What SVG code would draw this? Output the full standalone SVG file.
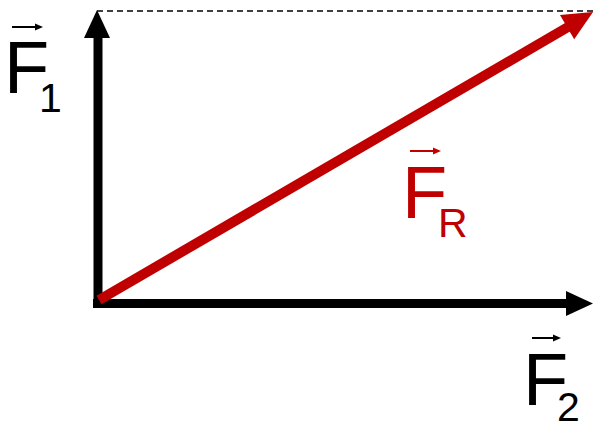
<svg xmlns="http://www.w3.org/2000/svg" width="593" height="423" viewBox="0 0 593 423">
<style>
.lbl{font-family:"Liberation Sans",Arial,sans-serif}
.big{font-size:74px}
.sub{font-size:41px}
.blk{fill:#000}
.red{fill:#C00000}
.vec{stroke-width:2;fill:none}
</style>
<rect width="593" height="423" fill="#fff"/>
<g id="connectors">
  <line x1="97" y1="11" x2="593" y2="11" stroke="#000" stroke-width="1.5" stroke-dasharray="6 4"/>
  <g id="axis-y">
    <line x1="98" y1="308" x2="98" y2="36" stroke="#000" stroke-width="9"/>
    <polygon points="97,10 84,38 110,38" fill="#000"/>
  </g>
  <g id="axis-x">
    <line x1="93" y1="303.5" x2="568" y2="303.5" stroke="#000" stroke-width="9"/>
    <polygon points="593,303.5 566,291 566,316" fill="#000"/>
  </g>
  <g id="resultant">
    <line x1="99" y1="300" x2="568" y2="27" stroke="#C00000" stroke-width="10"/>
    <polygon points="593,12 574.2,39.2 560,15" fill="#C00000"/>
  </g>
</g>
<g id="label-F1">
  <text class="lbl big blk" x="4" y="93">F</text>
  <text class="lbl sub blk" x="39" y="112">1</text>
  <path class="vec" stroke="#000" d="M12,27 H38"/>
  <polygon points="43,27 35,23.5 35,30.5" fill="#000"/>
</g>
<g id="label-FR">
  <text class="lbl big red" x="402" y="218">F</text>
  <text class="lbl sub red" x="438" y="237">R</text>
  <path class="vec" stroke="#C00000" d="M410,151 H436"/>
  <polygon points="441,151 433,147.5 433,154.5" fill="#C00000"/>
</g>
<g id="label-F2">
  <text class="lbl big blk" x="523" y="405">F</text>
  <text class="lbl sub blk" x="557" y="421">2</text>
  <path class="vec" stroke="#000" d="M532,338 H556"/>
  <polygon points="561,338 553,334.5 553,341.5" fill="#000"/>
</g>
</svg>
